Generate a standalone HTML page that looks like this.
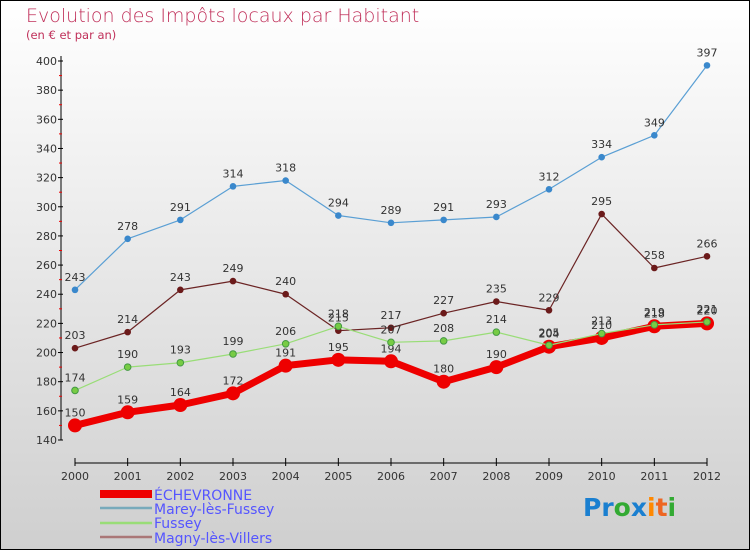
<!DOCTYPE html>
<html><head><meta charset="utf-8"><style>
body{margin:0}
#c{width:750px;height:550px;position:relative;overflow:hidden;box-sizing:border-box;border:1px solid #000;background:linear-gradient(#fff,#cfcfcf);font-family:"DejaVu Sans","Liberation Sans",sans-serif}
svg text{font-family:"DejaVu Sans","Liberation Sans",sans-serif}
</style></head><body>
<div id="c">
<svg id="s" width="750" height="550" style="position:absolute;left:-1px;top:-1px">
<text x="26" y="22" font-size="19" fill="#c0305a" font-weight="200">Evolution des Impôts locaux par Habitant</text>
<text x="26" y="39" font-size="11.5" fill="#c0305a">(en € et par an)</text>
<g id="axes"></g><g id="series"></g>
<g>
<rect x="100" y="490" width="52" height="8" fill="#e00"/>
<text x="154" y="500" font-size="14" fill="#55f">ÉCHEVRONNE</text>
<line x1="100" y1="508" x2="152" y2="508" stroke="#7ab" stroke-width="2.5"/>
<text x="154" y="514" font-size="14" fill="#55f">Marey-lès-Fussey</text>
<line x1="100" y1="523" x2="152" y2="523" stroke="#9d7" stroke-width="2.5"/>
<text x="154" y="528" font-size="14" fill="#55f">Fussey</text>
<line x1="100" y1="537" x2="152" y2="537" stroke="#a77" stroke-width="2.5"/>
<text x="154" y="543" font-size="14" fill="#55f">Magny-lès-Villers</text>
</g>
<text x="583" y="516" font-size="25" font-weight="bold"><tspan fill="#1a7fd0">Pr</tspan><tspan fill="#3a3">o</tspan><tspan fill="#1a7fd0">x</tspan><tspan fill="#f80">i</tspan><tspan fill="#e62">t</tspan><tspan fill="#3a3">i</tspan></text>
</svg>
</div>
<script>
const years=[2000,2001,2002,2003,2004,2005,2006,2007,2008,2009,2010,2011,2012];
const yTicks=[140,160,180,200,220,240,260,280,300,320,340,360,380,400];
const echevronne=[150,159,164,172,191,195,194,180,190,204,210,218,220];
const marey=[243,278,291,314,318,294,289,291,293,312,334,349,397];
const fussey=[174,190,193,199,206,218,207,208,214,205,213,219,221];
const magny=[203,214,243,249,240,215,217,227,235,229,295,258,266];
const NS='http://www.w3.org/2000/svg';
function X(i){return 75+i*(707-75)/(years.length-1);}
function Y(v){return 440-(v-140)*(440-61)/260;}
function mk(t,a,p){const e=document.createElementNS(NS,t);for(const k in a)e.setAttribute(k,a[k]);p.appendChild(e);return e;}
const ax=document.getElementById('axes'),sg=document.getElementById('series');
let l=mk('line',{x1:61,y1:56,x2:61,y2:440,stroke:'#000'},ax);


l=mk('line',{x1:75,y1:463,x2:707,y2:463,stroke:'#000'},ax);


yTicks.forEach((v,i)=>{mk('line',{x1:58,y1:Y(v),x2:63,y2:Y(v),stroke:'#000'},ax);
 if(i<yTicks.length-1)mk('line',{x1:59,y1:Y(v+10),x2:62,y2:Y(v+10),stroke:'#e00'},ax);
 const t=mk('text',{x:57,y:Y(v)+4,'font-size':11,fill:'#333','text-anchor':'end'},ax);t.textContent=v;
 
 });
years.forEach((y,i)=>{mk('line',{x1:X(i),y1:458,x2:X(i),y2:466,stroke:'#000'},ax);
 const t=mk('text',{x:X(i),y:480,'font-size':11,fill:'#333','text-anchor':'middle'},ax);t.textContent=y;
 
 });
function series(d,name,col,w,r,pc,stroke){
 const g=mk('g',{},sg);
 
 
 mk('polyline',{points:d.map((v,i)=>X(i)+','+Y(v)).join(' '),fill:'none',stroke:col,'stroke-width':w,'stroke-linejoin':'round'},g);
 d.forEach((v,i)=>{const c=mk('circle',{cx:X(i),cy:Y(v),r:r,fill:pc,stroke:stroke||'none'},g);
  
  
  const t=mk('text',{x:X(i),y:Y(v)-9,'font-size':11,fill:'#333','text-anchor':'middle'},g);t.textContent=v;});
}
series(marey,'marey','#5a9fd4',1.2,3.3,'#3a88cc');
series(magny,'magny','#6b2424',1.2,3.3,'#6b1a1a');
series(echevronne,'echevronne','#e00',7,7,'#e00');
series(fussey,'fussey','#9d7',1.2,3.3,'#7c4','#494');
</script>
</body></html>
